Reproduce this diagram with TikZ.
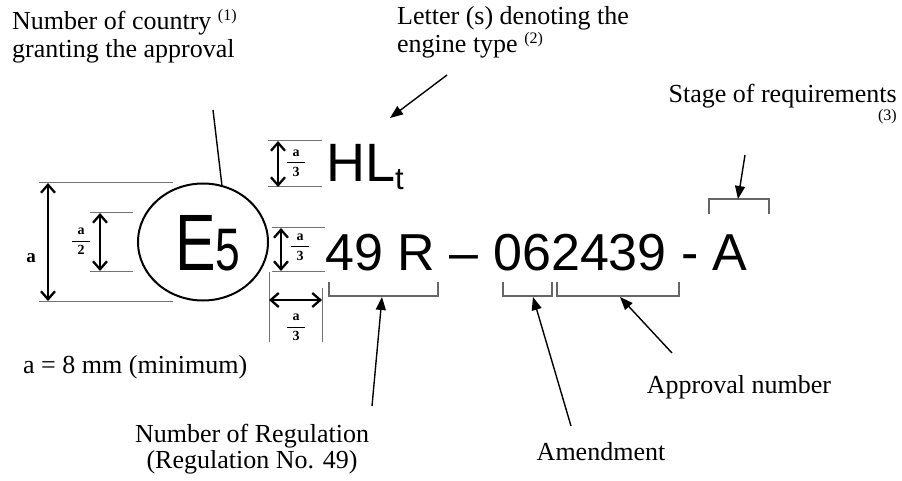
\documentclass[tikz,border=0pt]{standalone}
\usepackage{amsmath}
\usepackage{fontspec}
\setmainfont{Liberation Serif}
\newfontfamily\platefont{Liberation Sans}
\usetikzlibrary{shapes,arrows.meta}

\newcommand{\fnmark}[1]{\raisebox{9pt}{\fontsize{16}{16}\selectfont(#1)}}
\newcommand{\apart}[1]{$\genfrac{}{}{0.8pt}{0}{\makebox[18pt]{\textbf{a}}}{\makebox[18pt]{\textbf{#1}}}$}

\begin{document}
\begin{tikzpicture}[x=1pt, y=-1pt]

    % Define styles
    \tikzstyle{note} = [inner sep=0, align=left, font=\fontsize{26}{28}\selectfont]
    \tikzstyle{plate} = [inner sep=0, font=\platefont\fontsize{52}{52}\selectfont]
    \tikzstyle{part} = [inner sep=0, font=\fontsize{14}{14}\selectfont]
    \tikzstyle{line} = [draw, line width=1.4pt, -{Triangle[length=13pt,width=10pt]}]
    \tikzstyle{lead} = [draw, line width=1.4pt]
    \tikzstyle{dim} = [draw, line width=1.2pt,
        {Straight Barb[length=8pt,width=14pt,line width=2.3pt]}-{Straight Barb[length=8pt,width=14pt,line width=2.3pt]}]
    \tikzstyle{ext} = [draw, black!55, line width=1pt]
    \tikzstyle{bracket} = [draw, black!60, line width=1.2pt]

    \useasboundingbox (0,0) rectangle (902,481);

    % Place nodes
    \node [draw, ellipse, line width=2pt, minimum width=130pt, minimum height=117pt] (circ) at (203,242) {};
    \node [inner sep=0, anchor=base west, font=\platefont] (esign) at (175,270)
        {\scalebox{0.76}[1]{\fontsize{80}{80}\selectfont E}\scalebox{0.74}[1]{\fontsize{60}{60}\selectfont 5}};
    \node [plate, anchor=base west, font=\platefont\fontsize{54}{54}\selectfont] (engine) at (326,182)
        {HL\raisebox{-8pt}{\fontsize{31}{31}\selectfont t}};
    \node [plate, anchor=base west] (code) at (325.5,270) {49 R – 062439 - A};

    % Multi-line notes are placed by the baseline of their last line
    \node [note, anchor=base west] (country) at (12,58)
        {Number of country \fnmark{1}\\granting the approval};
    \node [note, anchor=base west] (enginenote) at (397,53)
        {Letter (s) denoting the\\engine type \fnmark{2}};
    \node [note, anchor=base east, align=right] (stagenote) at (897,121)
        {Stage of requirements\\[-10pt]{\fontsize{16}{16}\selectfont (3)}};
    \node [note, anchor=base west] (amin) at (23,373) {a = 8 mm (minimum)};
    \node [note, anchor=base, align=center, font=\fontsize{26}{26}\selectfont] (regnote) at (252,468)
        {Number of Regulation\\(Regulation No. 49)};
    \node [note, anchor=base] (amendnote) at (601,460) {Amendment};
    \node [note, anchor=base] (apprnote) at (739,393) {Approval number};

    % Dimensions
    \node [part, anchor=base] (abig) at (31,262) {\fontsize{19}{19}\selectfont\textbf{a}};
    \node [part, anchor=base] (ahalf) at (81,244.5) {\apart{2}};
    \node [part, anchor=base] (athird1) at (296,166.5) {\apart{3}};
    \node [part, anchor=base] (athird2) at (300,250.5) {\apart{3}};
    \node [part, anchor=base] (athird3) at (296,330.5) {\apart{3}};

    \path [ext] (39,183) -- (173,183);
    \path [ext] (39,301) -- (173,301);
    \path [dim] (48,183) -- (48,301);
    \path [ext] (90,213) -- (133,213);
    \path [ext] (90,271) -- (133,271);
    \path [dim] (100,213) -- (100,271);
    \path [ext] (268,141) -- (322,141);
    \path [ext] (268,187) -- (322,187);
    \path [dim] (278,141) -- (278,187);
    \path [ext] (272,228) -- (325,228);
    \path [ext] (272,271) -- (325,271);
    \path [dim] (281,228) -- (281,271);
    \path [ext] (269,272) -- (269,342);
    \path [ext] (322,288) -- (322,342);
    \path [dim] (269,300) -- (322,300);

    % Brackets
    \path [bracket] (329,282) -- (329,296) -- (438,296) -- (438,282);
    \path [bracket] (503,282) -- (503,296) -- (552,296) -- (552,282);
    \path [bracket] (557,282) -- (557,296) -- (679,296) -- (679,282);
    \path [bracket] (709,214) -- (709,199) -- (769,199) -- (769,214);

    \coordinate (countrytail) at (213,110);
    \coordinate (countrytip) at (222,186);
    \coordinate (enginetail) at (447,75);
    \coordinate (enginetip) at (390,118);
    \coordinate (stagetail) at (745,155);
    \coordinate (stagetip) at (738,199);
    \coordinate (regtail) at (372,406);
    \coordinate (regtip) at (382,297);
    \coordinate (amendtail) at (571,426);
    \coordinate (amendtip) at (533,297);
    \coordinate (apprtail) at (672,353);
    \coordinate (apprtip) at (620,297);

    % Draw edges
    \path [lead] (countrytail) -- (countrytip);
    \path [line] (enginetail) -- (enginetip);
    \path [line] (stagetail) -- (stagetip);
    \path [line] (regtail) -- (regtip);
    \path [line] (amendtail) -- (amendtip);
    \path [line] (apprtail) -- (apprtip);

\end{tikzpicture}
\end{document}
